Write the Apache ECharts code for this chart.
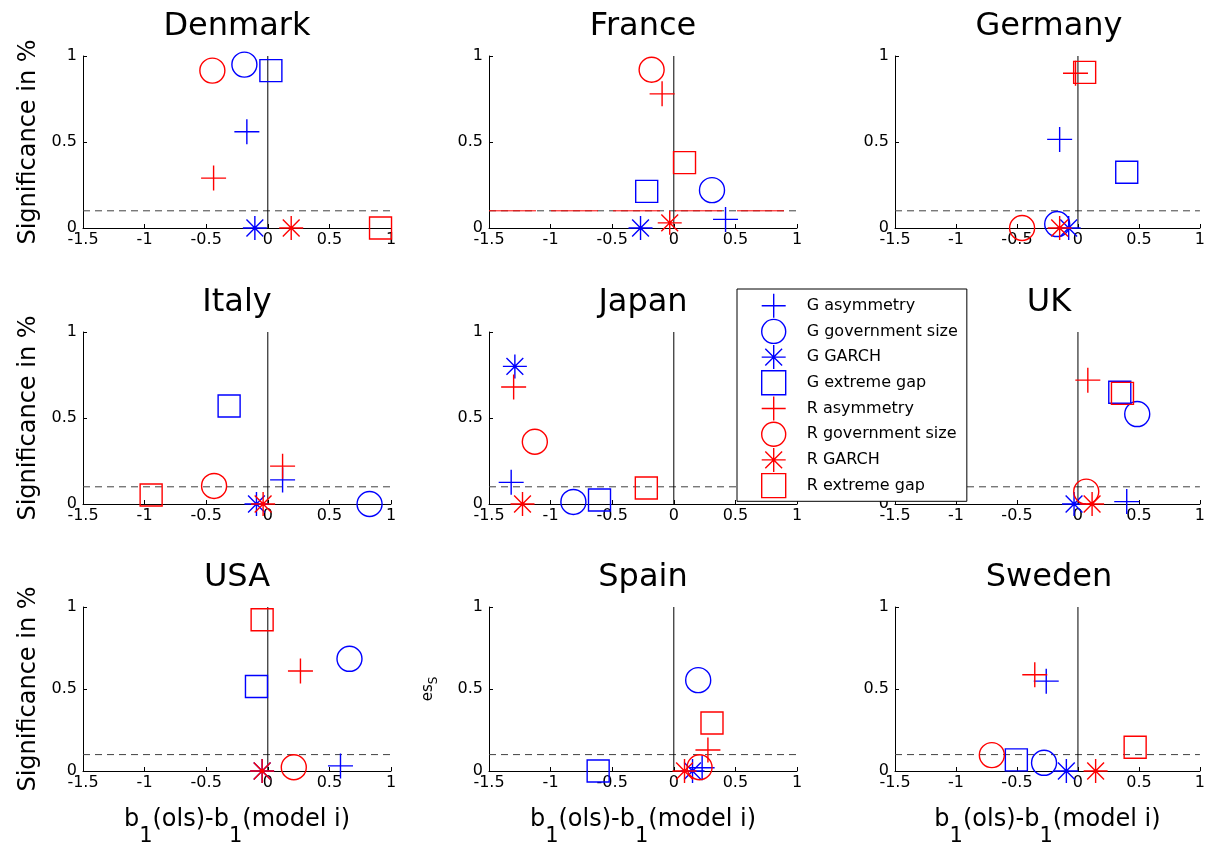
<!DOCTYPE html>
<html>
<head>
<meta charset="utf-8">
<script src="https://cdn.jsdelivr.net/npm/echarts@6/dist/echarts.min.js"></script>
<style>html,body{margin:0;padding:0;background:#fff}#c{width:1208px;height:848px}</style>
</head>
<body>
<div id="c"></div>
<script>
// ---------- data ----------
const countries = ['Denmark','France','Germany','Italy','Japan','UK','USA','Spain','Sweden'];
const seriesNames = ['G asymmetry','G government size','G GARCH','G extreme gap','R asymmetry','R government size','R GARCH','R extreme gap'];
const xTickMin = -1.5, xTickMax = 1, xTickStep = 0.5;
const yTickMin = 0, yTickMax = 1, yTickStep = 0.5;
const thresholdLevel = 0.1;
// [x, y] per country, in the order of `countries`
const gAsymmetry  = [[-0.17,0.56],[0.42,0.05],[-0.15,0.515],[0.12,0.14],[-1.32,0.126],[0.40,0.014],[0.59,0.031],[0.23,0.02],[-0.26,0.548]];
const gGovSize    = [[-0.19,0.95],[0.31,0.22],[-0.17,0.023],[0.826,0],[-0.815,0.012],[0.486,0.523],[0.663,0.684],[0.198,0.554],[-0.278,0.05]];
const gGarch      = [[-0.105,0],[-0.27,0],[-0.076,0],[-0.092,0],[-1.29,0.80],[-0.032,0],[-0.046,0],[0.152,0],[-0.095,0]];
const gExtremeGap = [[0.025,0.915],[-0.22,0.213],[0.40,0.324],[-0.314,0.57],[-0.603,0.023],[0.343,0.65],[-0.092,0.515],[-0.614,0],[-0.505,0.068]];
const rAsymmetry  = [[-0.44,0.29],[-0.095,0.78],[-0.02,0.9],[0.12,0.22],[-1.30,0.68],[0.081,0.72],[0.265,0.61],[0.277,0.128],[-0.354,0.587]];
const rGovSize    = [[-0.45,0.915],[-0.18,0.92],[-0.458,0],[-0.436,0.105],[-1.128,0.362],[0.068,0.072],[0.211,0.023],[0.209,0.023],[-0.706,0.097]];
const rGarch      = [[0.19,0],[-0.033,0.03],[-0.15,0],[-0.038,0],[-1.228,0],[0.116,0],[-0.046,0],[0.087,0],[0.145,0]];
const rExtremeGap = [[0.915,0],[0.087,0.38],[0.055,0.905],[-0.947,0.052],[-0.223,0.093],[0.365,0.643],[-0.046,0.922],[0.31,0.293],[0.469,0.145]];
// reference lines (threshold at 0.1 and the zero line), from the axis range
const thresholdLine = [[xTickMin, thresholdLevel], [xTickMax, thresholdLevel]];
const zeroLine = [[0, yTickMin], [0, yTickMax]];

// ---------- styling ----------
const FONT = 'DejaVu Sans';
const BLUE = '#0000ff', RED = '#ff0000';
const CLEAR = 'rgba(0,0,0,0)';
const MARK_W = 1.4;
const PLUS = 'path://M0,10L20,10M10,0L10,20';
const STAR = 'path://M0,10L20,10M10,0L10,20M3,3L17,17M17,3L3,17';
const SQUARE = 'path://M0,0L20,0L20,20L0,20Z';
const defs = [
  {name: seriesNames[0], data: gAsymmetry,  symbol: PLUS,     size: 25, color: BLUE},
  {name: seriesNames[1], data: gGovSize,    symbol: 'circle', size: 25, color: BLUE},
  {name: seriesNames[2], data: gGarch,      symbol: STAR,     size: 24, color: BLUE},
  {name: seriesNames[3], data: gExtremeGap, symbol: 'rect',   size: 22, color: BLUE},
  {name: seriesNames[4], data: rAsymmetry,  symbol: PLUS,     size: 25, color: RED},
  {name: seriesNames[5], data: rGovSize,    symbol: 'circle', size: 25, color: RED},
  {name: seriesNames[6], data: rGarch,      symbol: STAR,     size: 24, color: RED},
  {name: seriesNames[7], data: rExtremeGap, symbol: 'rect',   size: 22, color: RED}
];

const gridLefts = [83, 489, 895];
const gridTops = [56, 332, 607];
const GW = 308, GH = 172;

function lineSeries(i, name, data, color, type, z) {
  return {
    type: 'line', name: name, xAxisIndex: i, yAxisIndex: i, data: data,
    symbol: 'none', showSymbol: false, silent: true, animation: false,
    lineStyle: {color: color, type: type, width: 1, opacity: 1},
    itemStyle: {color: color},
    emphasis: {disabled: true}, z: z
  };
}

const grids = [], xAxes = [], yAxes = [], titles = [], series = [];
countries.forEach((c, i) => {
  const col = i % 3, row = Math.floor(i / 3);
  const left = gridLefts[col], top = gridTops[row];
  grids.push({left: left, top: top, width: GW, height: GH, containLabel: false});
  titles.push({
    text: c, left: left + GW / 2, top: top - 45, textAlign: 'center', textVerticalAlign: 'top', padding: 0,
    textStyle: {fontFamily: FONT, fontSize: 32, fontWeight: 'normal', color: '#000'}
  });
  const xa = {
    type: 'value', gridIndex: i, min: xTickMin, max: xTickMax, interval: xTickStep,
    axisLine: {show: true, onZero: false, lineStyle: {color: '#000', width: 1}},
    axisTick: {show: true, inside: true, length: 4, lineStyle: {color: '#000'}},
    axisLabel: {fontFamily: FONT, fontSize: 16, color: '#000', margin: 4},
    splitLine: {show: false}
  };
  if (row === 2) {
    xa.name = '{a|b}{s|1}{a|(ols)-b}{s|1}{a|(model i)}';
    xa.nameLocation = 'middle';
    xa.nameGap = 37;
    xa.nameTextStyle = {
      rich: {
        a: {fontFamily: FONT, fontSize: 24, color: '#000', lineHeight: 27, verticalAlign: 'top'},
        s: {fontFamily: FONT, fontSize: 21, color: '#000', lineHeight: 22, verticalAlign: 'top', padding: [18, 0, 0, 0]}
      }
    };
  }
  xAxes.push(xa);
  const ya = {
    type: 'value', gridIndex: i, min: yTickMin, max: yTickMax, interval: yTickStep,
    axisLine: {show: true, onZero: false, lineStyle: {color: '#000', width: 1}},
    axisTick: {show: true, inside: true, length: 4, lineStyle: {color: '#000'}},
    axisLabel: {fontFamily: FONT, fontSize: 16, color: '#000', margin: 6},
    splitLine: {show: false}
  };
  if (col === 0) {
    ya.name = 'Significance in %';
    ya.nameLocation = 'middle';
    ya.nameGap = 42;
    ya.nameTextStyle = {fontFamily: FONT, fontSize: 24, color: '#000'};
  } else if (c === 'Spain') {
    ya.name = '{a|es}{s|S}';
    ya.nameLocation = 'middle';
    ya.nameGap = 52;
    ya.nameTextStyle = {
      rich: {
        a: {fontFamily: FONT, fontSize: 15, color: '#000', lineHeight: 16, verticalAlign: 'top'},
        s: {fontFamily: FONT, fontSize: 12, color: '#000', lineHeight: 12, verticalAlign: 'top', padding: [7, 0, 0, 0]}
      }
    };
  }
  yAxes.push(ya);

  series.push(lineSeries(i, 'threshold', thresholdLine, '#404040', [7, 5], 2));
  if (c === 'France') series.push(lineSeries(i, 'threshold R', thresholdLine, RED, [47, 15], 2));
  series.push(lineSeries(i, 'zero', zeroLine, '#000', 'solid', 2));

  defs.forEach((d) => {
    series.push({
      type: 'scatter', name: d.name, xAxisIndex: i, yAxisIndex: i,
      data: [d.data[i]], symbol: d.symbol, symbolSize: d.size,
      itemStyle: {color: CLEAR, borderColor: d.color, borderWidth: MARK_W, opacity: 1},
      emphasis: {disabled: true}, clip: false, z: 3
    });
  });
});

const option = {
  backgroundColor: '#fff',
  animation: false,
  title: titles,
  grid: grids,
  xAxis: xAxes,
  yAxis: yAxes,
  legend: {
    orient: 'vertical', left: 737, top: 289, z: 20,
    padding: [4, 9, 3, 24], itemWidth: 30, itemHeight: 24, itemGap: 0.3,
    backgroundColor: '#fff', borderColor: '#000', borderWidth: 1, borderRadius: 0,
    selectedMode: false,
    textStyle: {fontFamily: FONT, fontSize: 16, color: '#000', padding: [0, 0, 0, 13]},
    data: defs.map(d => ({
      name: d.name, icon: d.symbol === 'rect' ? SQUARE : d.symbol,
      itemStyle: {color: CLEAR, borderColor: d.color, borderWidth: MARK_W}
    }))
  },
  series: series
};
const chart = echarts.init(document.getElementById('c'), null, {renderer: 'canvas'});
chart.setOption(option);
</script>
</body>
</html>
